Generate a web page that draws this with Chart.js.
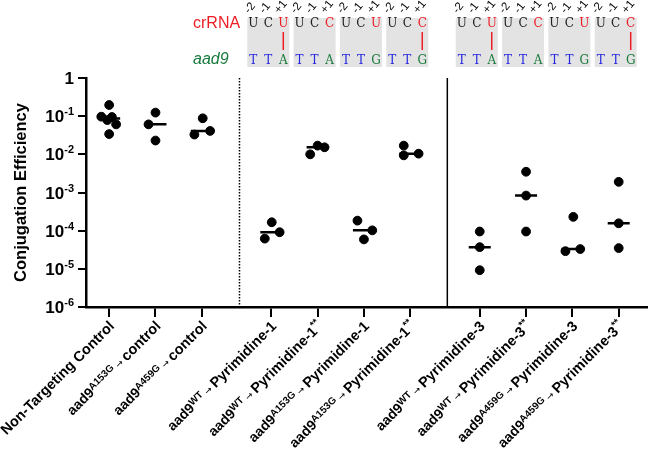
<!DOCTYPE html>
<html>
<head>
<meta charset="utf-8">
<script src="https://cdn.jsdelivr.net/npm/chart.js@4"></script>
<style>
  body { margin: 0; background: #fff; }
  canvas { display: block; }
</style>
</head>
<body>
<canvas id="chart" width="660" height="455"></canvas>
<script>
var fontFamily = '"Liberation Sans", Arial, Helvetica, sans-serif';

// category slots on the x axis (gaps between the three panels)
var slots = [0, 1, 2, 3.5, 4.5, 5.5, 6.5, 8, 9, 10, 11];
var alleles = ['', 'A153G', 'A459G', 'WT', 'WT', 'A153G', 'A153G', 'WT', 'WT', 'A459G', 'A459G'];
var targets = ['Non-Targeting Control', 'control', 'control', 'Pyrimidine-1', 'Pyrimidine-1',
               'Pyrimidine-1', 'Pyrimidine-1', 'Pyrimidine-3', 'Pyrimidine-3', 'Pyrimidine-3', 'Pyrimidine-3'];
var marks = ['', '', '', '', '**', '', '**', '', '**', '', '**'];

// conjugation efficiency replicates per category
var values = [
    [0.196, 0.097, 0.095, 0.079, 0.061, 0.034],
    [0.124, 0.061, 0.023],
    [0.088, 0.033, 0.041],
    [1.66e-4, 9.1e-5, 6.2e-5],
    [0.0169, 0.0153, 0.010],
    [1.83e-4, 1.02e-4, 5.9e-5],
    [0.0169, 0.0094, 0.0104],
    [9.5e-5, 3.7e-5, 9.2e-6],
    [3.5e-3, 8.3e-4, 9.5e-5],
    [2.3e-4, 2.9e-5, 3.3e-5],
    [1.9e-3, 1.56e-4, 3.5e-5]
];
// horizontal scatter of the replicates, in category widths
var spread = [
    [0, -0.17, 0.06, -0.04, 0.15, 0],
    [0, -0.15, 0],
    [0.02, -0.16, 0.18],
    [0.01, 0.18, -0.14],
    [0, 0.15, -0.16],
    [-0.14, 0.18, 0],
    [-0.14, -0.14, 0.18],
    [0, 0, 0],
    [0, 0, 0],
    [0.02, -0.15, 0.17],
    [0, 0, 0]
];

var yTicks = [1, 1e-1, 1e-2, 1e-3, 1e-4, 1e-5, 1e-6];

// crRNA / aad9 alignment boxes over the targeting categories
var crRNA = ['UCU', 'UCC', 'UCU', 'UCC', 'UCU', 'UCC', 'UCU', 'UCC'];
var genome = ['TTA', 'TTA', 'TTG', 'TTG', 'TTA', 'TTA', 'TTG', 'TTG'];
var paired = [true, false, false, true, true, false, false, true];
var seqPos = ['-2', '-1', '+1'];

function median(arr) {
    var s = arr.slice().sort(function (a, b) { return a - b; });
    var m = Math.floor(s.length / 2);
    return s.length % 2 ? s[m] : (s[m - 1] + s[m]) / 2;
}

var points = [];
var medians = [];
values.forEach(function (group, i) {
    group.forEach(function (v, j) {
        points.push({ x: slots[i] + spread[i][j], y: v });
    });
    medians.push({ x: slots[i], y: median(group) });
});

var annotations = {
    id: 'annotations',
    beforeDatasetsDraw: function (chart) {
        var ctx = chart.ctx, a = chart.chartArea, x = chart.scales.x;
        ctx.save();
        ctx.strokeStyle = '#000';
        ctx.lineWidth = 1.5;
        ctx.setLineDash([1.5, 1.5]);
        ctx.beginPath();
        ctx.moveTo(Math.round(x.getPixelForValue(2.8)) + 0.5, a.top);
        ctx.lineTo(Math.round(x.getPixelForValue(2.8)) + 0.5, a.bottom);
        ctx.stroke();
        ctx.setLineDash([]);
        ctx.beginPath();
        ctx.moveTo(x.getPixelForValue(7.3), a.top);
        ctx.lineTo(x.getPixelForValue(7.3), a.bottom);
        ctx.stroke();
        ctx.restore();
    },
    afterDraw: function (chart) {
        var ctx = chart.ctx, a = chart.chartArea;
        var xs = chart.scales.x, ys = chart.scales.y;
        ctx.save();
        ctx.fillStyle = '#000';

        // y tick labels
        yTicks.forEach(function (v, k) {
            var py = ys.getPixelForValue(v);
            var right = a.left - 12;
            ctx.textBaseline = 'alphabetic';
            ctx.textAlign = 'left';
            if (k === 0) {
                ctx.font = 'bold 17px ' + fontFamily;
                ctx.fillText('1', right - ctx.measureText('1').width, py + 6);
                return;
            }
            ctx.font = 'bold 11px ' + fontFamily;
            var sup = '-' + k;
            var ws = ctx.measureText(sup).width;
            ctx.font = 'bold 17px ' + fontFamily;
            var wb = ctx.measureText('10').width;
            ctx.fillText('10', right - ws - wb, py + 6);
            ctx.font = 'bold 11px ' + fontFamily;
            ctx.fillText(sup, right - ws, py - 1);
        });

        // y title
        ctx.save();
        ctx.translate(21, (a.top + a.bottom) / 2);
        ctx.rotate(-Math.PI / 2);
        ctx.textAlign = 'center';
        ctx.textBaseline = 'middle';
        ctx.font = 'bold 16.5px ' + fontFamily;
        ctx.fillText('Conjugation Efficiency', 0, 0);
        ctx.restore();

        // rotated x labels
        var arrowFont = '"DejaVu Sans", ' + fontFamily;
        slots.forEach(function (s, i) {
            var parts;
            if (!alleles[i]) {
                parts = [{ t: targets[i], f: 'bold 14.5px ' + fontFamily, dy: 0 }];
            } else {
                parts = [
                    { t: 'aad9', f: 'bold 14px ' + fontFamily, dy: 0 },
                    { t: alleles[i], f: 'bold 10px ' + fontFamily, dy: -4 },
                    { t: ' \u2192 ', f: '9px ' + arrowFont, dy: -1 },
                    { t: targets[i], f: 'bold 14.5px ' + fontFamily, dy: 0 }
                ];
                if (marks[i]) parts.push({ t: marks[i], f: 'bold 10px ' + fontFamily, dy: -6 });
            }
            var total = 0;
            parts.forEach(function (p) {
                ctx.font = p.f;
                p.w = ctx.measureText(p.t).width;
                total += p.w;
            });
            ctx.save();
            ctx.translate(xs.getPixelForValue(s) + 6, a.bottom + 20);
            ctx.rotate(-Math.PI / 4);
            ctx.textAlign = 'left';
            ctx.textBaseline = 'alphabetic';
            var cx = -total;
            parts.forEach(function (p) {
                ctx.font = p.f;
                ctx.fillText(p.t, cx, p.dy);
                cx += p.w;
            });
            ctx.restore();
        });

        // crRNA / aad9 header
        ctx.textAlign = 'left';
        ctx.textBaseline = 'middle';
        ctx.font = '16px ' + fontFamily;
        ctx.fillStyle = '#ee1c25';
        ctx.fillText('crRNA', 193, 24);
        ctx.font = 'italic 16px ' + fontFamily;
        ctx.fillStyle = '#187a3c';
        ctx.fillText('aad9', 193, 60);

        var seqFont = '"DejaVu Serif", "Liberation Serif", serif';
        crRNA.forEach(function (seq, b) {
            var cx = xs.getPixelForValue(slots[b + 3]) - 3;
            ctx.fillStyle = '#e3e3e3';
            ctx.fillRect(cx - 21, 18, 42, 49);
            for (var k = 0; k < 3; k++) {
                var lx = cx + (k - 1) * 15;
                ctx.textAlign = 'center';
                ctx.textBaseline = 'middle';
                ctx.font = '12px ' + seqFont;
                ctx.fillStyle = k === 2 ? '#ee1c25' : '#222';
                ctx.fillText(seq[k], lx, 24);
                var g = genome[b][k];
                ctx.fillStyle = g === 'T' ? '#2424e0' : '#187a3c';
                ctx.fillText(g, lx, 61);
                ctx.save();
                ctx.translate(lx - 4, 14);
                ctx.rotate(-0.9);
                ctx.textAlign = 'left';
                ctx.textBaseline = 'alphabetic';
                ctx.font = '11.5px ' + fontFamily;
                ctx.fillStyle = '#000';
                ctx.fillText(seqPos[k], 0, 0);
                ctx.restore();
            }
            if (paired[b]) {
                ctx.strokeStyle = '#ee1c25';
                ctx.lineWidth = 1.5;
                ctx.beginPath();
                ctx.moveTo(cx + 15, 32);
                ctx.lineTo(cx + 15, 50);
                ctx.stroke();
            }
        });
        ctx.restore();
    }
};

var axisGrid = { display: true, drawOnChartArea: false, color: '#000', lineWidth: 2 };

new Chart(document.getElementById('chart'), {
    type: 'scatter',
    data: {
        datasets: [{
            data: points,
            backgroundColor: '#000',
            borderColor: '#000',
            pointRadius: 4.4,
            pointHoverRadius: 4.4
        }, {
            data: medians,
            pointStyle: 'line',
            borderColor: '#000',
            borderWidth: 2.5,
            pointRadius: 11,
            pointHoverRadius: 11
        }]
    },
    options: {
        responsive: false,
        animation: false,
        layout: { padding: { top: 78, left: 78, right: 5, bottom: 138 } },
        plugins: { legend: { display: false }, tooltip: { enabled: false } },
        scales: {
            x: {
                type: 'linear',
                min: -0.5,
                max: 11.6,
                afterBuildTicks: function (scale) {
                    scale.ticks = slots.map(function (v) { return { value: v }; });
                },
                ticks: { display: false },
                grid: Object.assign({ tickLength: 10 }, axisGrid),
                border: { display: true, color: '#000', width: 2.5 }
            },
            y: {
                type: 'logarithmic',
                min: 1e-6,
                max: 1,
                afterBuildTicks: function (scale) {
                    scale.ticks = yTicks.map(function (v) { return { value: v }; });
                },
                ticks: { display: false },
                grid: Object.assign({ tickLength: 8 }, axisGrid),
                border: { display: true, color: '#000', width: 2.5 }
            }
        }
    },
    plugins: [annotations]
});
</script>
</body>
</html>
